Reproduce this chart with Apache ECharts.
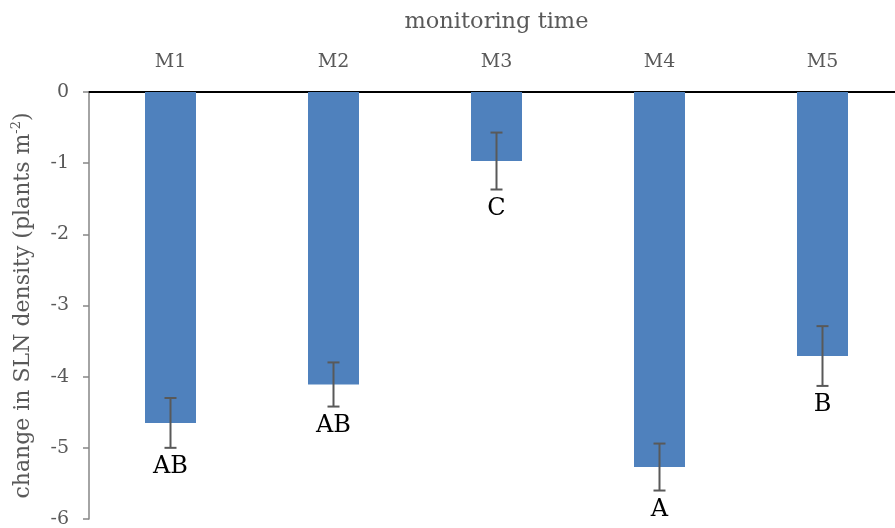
<!DOCTYPE html>
<html><head><meta charset="utf-8">
<script src="https://cdn.jsdelivr.net/npm/echarts@6/dist/echarts.min.js"></script>
<style>html,body{margin:0;padding:0;background:#fff}#c{width:895px;height:528px}</style>
</head><body><div id="c"></div>
<script>
const categories = ['M1', 'M2', 'M3', 'M4', 'M5'];
const values = [-4.65, -4.11, -0.97, -5.27, -3.71];
const errors = [0.35, 0.31, 0.40, 0.33, 0.42];
const letters = ['AB', 'AB', 'C', 'A', 'B'];
const yTicks = [0, -1, -2, -3, -4, -5, -6];

const FONT = 'DejaVu Serif';
const chart = echarts.init(document.getElementById('c'));
chart.setOption({
  animation: false,
  grid: { left: 89, top: 92, width: 815, height: 427, outerBoundsMode: 'none', containLabel: false },
  xAxis: {
    type: 'category', position: 'top', data: categories,
    name: 'monitoring time', nameLocation: 'middle', nameGap: 58,
    nameTextStyle: { fontFamily: FONT, fontSize: 22.5, color: '#595959' },
    axisLine: { show: true, lineStyle: { color: '#000', width: 2 } },
    axisTick: { show: false },
    axisLabel: { fontFamily: FONT, fontSize: 19, color: '#595959', margin: 20 }
  },
  yAxis: {
    type: 'value', min: -6, max: 0, interval: 1,
    name: '{a|change in SLN density (plants m}{b|-2}{a|)}', nameLocation: 'middle', nameGap: 53,
    nameTextStyle: { rich: {
      a: { fontFamily: FONT, fontSize: 22, color: '#595959', lineHeight: 26 },
      b: { fontFamily: FONT, fontSize: 13, color: '#595959', verticalAlign: 'top', lineHeight: 26, padding: [0, 0, 11, 0] }
    } },
    axisLine: { show: true, lineStyle: { color: '#868686', width: 1.5 } },
    axisTick: { show: true, length: 6, lineStyle: { color: '#868686', width: 1.5 } },
    splitLine: { show: false },
    axisLabel: { fontFamily: FONT, fontSize: 19, color: '#595959', margin: 20,
      customValues: yTicks }
  },
  series: [
    { type: 'bar', data: values, barWidth: 51, itemStyle: { color: '#4F81BD' } },
    {
      type: 'custom', data: values.map((v, i) => [i, v, errors[i]]),
      renderItem: function (params, api) {
        const i = api.value(0), v = api.value(1), e = api.value(2);
        const top = api.coord([i, v + e]);
        const bot = api.coord([i, v - e]);
        const half = 6;
        const st = { stroke: '#595959', lineWidth: 2 };
        return { type: 'group', children: [
          { type: 'line', shape: { x1: top[0], y1: top[1], x2: bot[0], y2: bot[1] }, style: st },
          { type: 'line', shape: { x1: top[0] - half, y1: top[1], x2: top[0] + half, y2: top[1] }, style: st },
          { type: 'line', shape: { x1: bot[0] - half, y1: bot[1], x2: bot[0] + half, y2: bot[1] }, style: st },
          { type: 'text', style: { text: letters[params.dataIndex], x: bot[0], y: bot[1] + 19,
            align: 'center', verticalAlign: 'middle', fontFamily: FONT, fontSize: 24, fill: '#000' } }
        ] };
      },
      z: 3
    }
  ]
});
</script></body></html>
